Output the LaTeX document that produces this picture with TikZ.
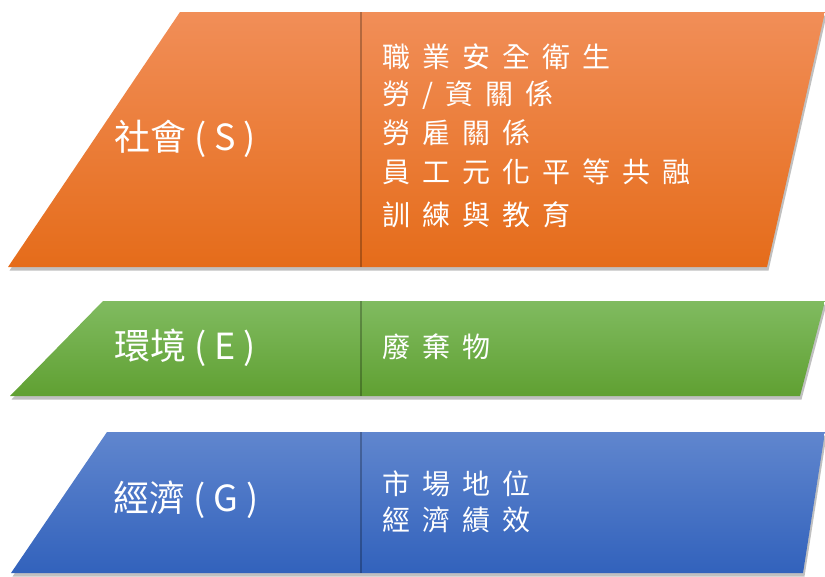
\documentclass[tikz,border=0pt]{standalone}
\usepackage{fontspec}
\newfontfamily\cjk{Noto Sans CJK TC}
\newfontfamily\cjksp[LetterSpace=43]{Noto Sans CJK TC}
\usetikzlibrary{shadows}
\definecolor{orTop}{RGB}{241,142,88}
\definecolor{orBot}{RGB}{229,108,26}
\definecolor{grTop}{RGB}{128,187,96}
\definecolor{grBot}{RGB}{96,160,50}
\definecolor{blTop}{RGB}{96,134,206}
\definecolor{blBot}{RGB}{50,98,188}
\begin{document}
\begin{tikzpicture}[x=1pt,y=-1pt,
  band/.style={drop shadow={shadow xshift=1.5pt,shadow yshift=-3.5pt,opacity=0.45,fill=black!55}},
  divider/.style={line width=1.5pt,draw=black,opacity=0.25},
  title/.style={text=white,font=\cjk\fontsize{36}{42}\selectfont,anchor=center,inner sep=0pt},
  item/.style={text=white,font=\cjksp\fontsize{28}{32}\selectfont,anchor=west,inner sep=0pt},
]
\useasboundingbox (0,0) rectangle (825,576);
% Social band
\shade[band,top color=orTop,bottom color=orBot] (180,12) -- (825,12) -- (767,267) -- (8,267) -- cycle;
\coordinate (sdTop) at (361,12);
\coordinate (sdBot) at (361,267);
\draw[divider] (sdTop) -- (sdBot);
% Environment band
\shade[band,top color=grTop,bottom color=grBot] (103,301) -- (825,301) -- (800,396) -- (10,396) -- cycle;
\coordinate (edTop) at (361,301);
\coordinate (edBot) at (361,396);
\draw[divider] (edTop) -- (edBot);
% Economy band
\shade[band,top color=blTop,bottom color=blBot] (107,432) -- (825,432) -- (803,573) -- (11,573) -- cycle;
\coordinate (gdTop) at (361,432);
\coordinate (gdBot) at (361,573);
\draw[divider] (gdTop) -- (gdBot);
% Titles
\node[title] (tS) at (185,139) {社會 ( S )};
\node[title] (tE) at (185,348) {環境 ( E )};
\node[title] (tG) at (186,500) {經濟 ( G )};
% Items
\node[item] (s1) at (382,57) {職業安全衛生};
\node[item] (s2) at (382,95) {勞/資關係};
\node[item] (s3) at (382,133) {勞雇關係};
\node[item] (s4) at (382,172) {員工元化平等共融};
\node[item] (s5) at (382,215) {訓練與教育};
\node[item] (e1) at (382,347) {廢棄物};
\node[item] (g1) at (382,484) {市場地位};
\node[item] (g2) at (382,520) {經濟績效};
\end{tikzpicture}
\end{document}
